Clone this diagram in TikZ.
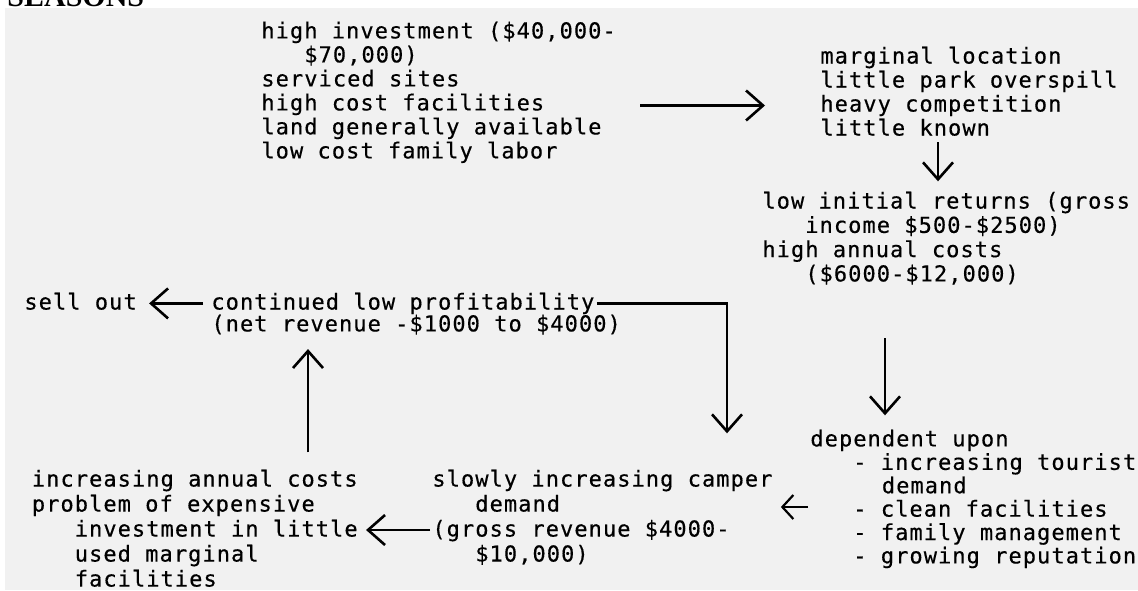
\documentclass[tikz,border=0pt]{standalone}
\usepackage{fontspec}
\usetikzlibrary{arrows.meta,calc}
\newfontfamily\typewriter{DejaVu Sans Mono}[LetterSpace=4.8,FakeBold=0.4]
\newfontfamily\headfont{Liberation Serif}
\definecolor{paper}{RGB}{241,241,241}
\newlength\chw
\newcommand\tw[1][12]{\typewriter\fontsize{11}{#1}\selectfont
  \setbox0\hbox{xx}\setbox2\hbox{x}\chw=\dimexpr\wd0-\wd2\relax
  \spaceskip=\chw\xspaceskip=\chw\relax}
\newcommand\ind[1]{\hspace*{#1\chw}}

\begin{document}
\begin{tikzpicture}[x=0.5pt, y=-0.5pt,
    txt/.style={font=\tw, align=left, anchor=north west, inner sep=0pt},
    arr/.style={-{Straight Barb[length=8.5pt,width=15pt]}, line width=1.3pt},
    smallarr/.style={-{Straight Barb[length=5.5pt,width=12pt]}, line width=1.1pt}]
  \clip (0,0) rectangle (1138,590);
  \fill[paper] (5,8) rectangle (1138,590);
  \node[anchor=base west, inner sep=0pt, font=\headfont\bfseries\fontsize{15}{15}\selectfont] (head) at (7,6) {SEASONS};

  % rows and columns of the typed page
  \coordinate (r3) at (0,105.5);
  \coordinate (r19) at (0,507);
  \coordinate (r20) at (0,530);
  \coordinate (c938) at (938,0);
  \coordinate (c885) at (885,0);
  \coordinate (c727) at (727,0);
  \coordinate (c308) at (308,0);

  \node[txt] (invest) at (261,21.3) {high investment (\$40,000-\\\ind{3}\$70,000)\\serviced sites\\high cost facilities\\land generally available\\low cost family labor};
  \node[txt] (location) at (820,46.3) {marginal location\\little park overspill\\heavy competition\\little known};
  \node[txt, font={\tw[12.15]}] (returns) at (762,191.3) {low initial returns (gross\\\ind{3}income \$500-\$2500)\\high annual costs\\\ind{3}(\$6000-\$12,000)};
  \node[txt] (sellout) at (24,292.3) {sell out};
  \node[txt] (profit) at (211,292.3) {continued low profitability};
  \node[txt] (netrev) at (211,314.3) {(net revenue -\$1000 to \$4000)};
  \node[txt, font={\tw[11.7]}] (depend) at (810,429.3) {dependent upon\\\ind{3}- increasing tourist\\\ind{5}demand\\\ind{3}- clean facilities\\\ind{3}- family management\\\ind{3}- growing reputation};
  \node[txt, font={\tw[12.5]}] (camper) at (432,469.3) {slowly increasing camper\\\ind{3}demand\\(gross revenue \$4000-\\\ind{3}\$10,000)};
  \node[txt, font={\tw[12.5]}] (costs) at (31.5,469.3) {increasing annual costs\\problem of expensive\\\ind{3}investment in little\\\ind{3}used marginal\\\ind{3}facilities};

  \draw[arr] ($(invest.east |- r3)+(24,0)$) -- ($(location.west |- r3)+(-55,0)$);
  \draw[arr, shorten <=3pt, shorten >=5pt] (location.south -| c938) -- (returns.north -| c938);
  \draw[arr, shorten <=26.5pt, shorten >=7pt] (returns.south -| c885) -- (depend.north -| c885);
  \draw[arr, shorten >=18pt] ([xshift=1pt]profit.east) -| (camper.north -| c727);
  \draw[arr, shorten <=4pt, shorten >=6pt] (profit.west) -- (sellout.east |- profit.west);
  \draw[arr, shorten <=8.5pt, shorten >=7pt] (costs.north -| c308) -- (netrev.south -| c308);
  \draw[arr, shorten <=1pt, shorten >=4pt] (camper.west |- r20) -- (costs.east |- r20);
  \draw[smallarr, shorten <=1pt, shorten >=4pt] (depend.west |- r19) -- (camper.east |- r19);
\end{tikzpicture}
\end{document}
